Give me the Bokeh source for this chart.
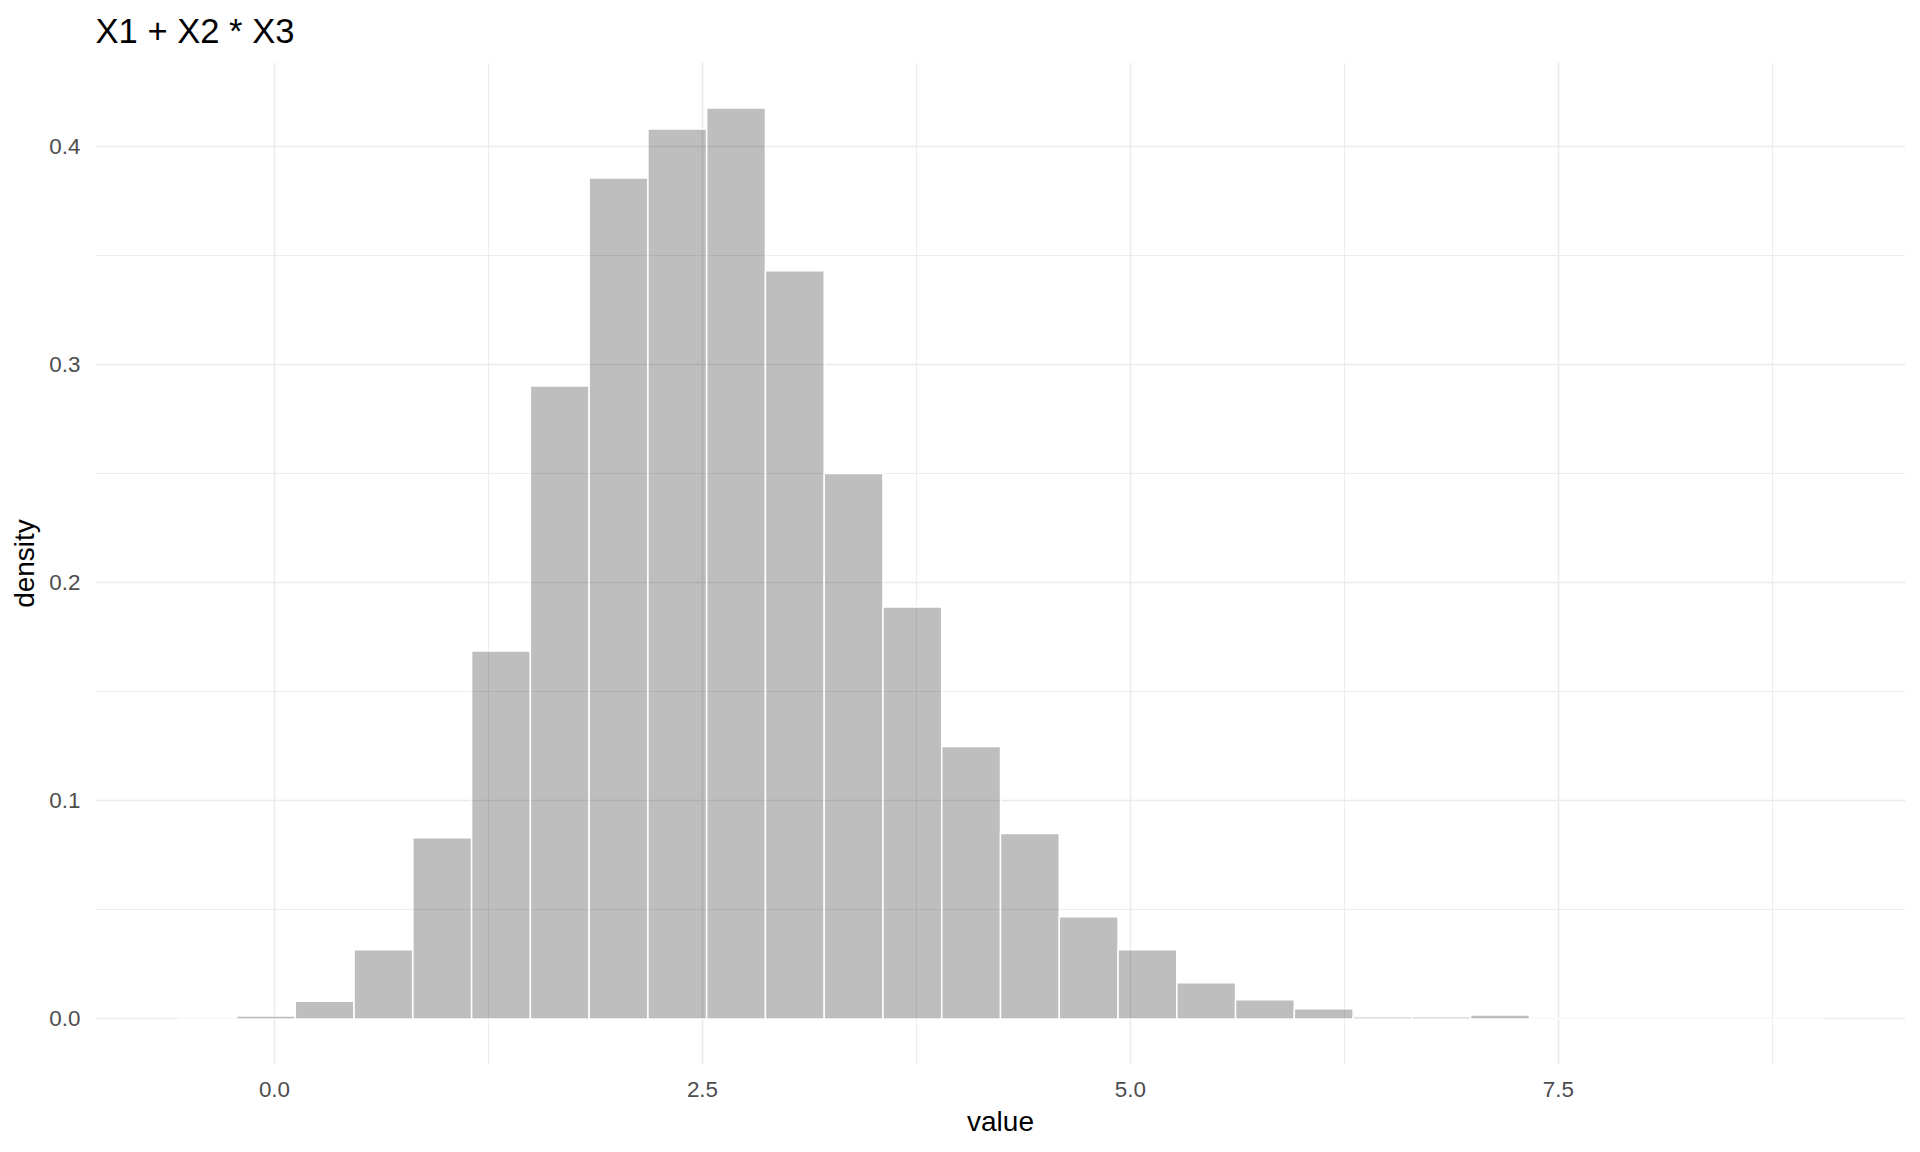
from bokeh.plotting import figure
from bokeh.models import Range1d, FixedTicker, ColumnDataSource
from bokeh.embed import file_html
from bokeh.resources import INLINE

# ---- data ----
title_text = "X1 + X2 * X3"
x_label = "value"
y_label = "density"
bin_start = -0.565
bin_width = 0.3433
densities = [0.0, 0.0013, 0.0081, 0.0317, 0.0830, 0.1686, 0.2900, 0.3854,
             0.4078, 0.4174, 0.3429, 0.2499, 0.1888, 0.1249, 0.0850, 0.0468,
             0.0317, 0.0166, 0.0088, 0.0047, 0.0010, 0.0010, 0.0018,
             0.0, 0.0, 0.0, 0.0, 0.0]
x_ticks = [0.0, 2.5, 5.0, 7.5]
x_minor = [1.25, 3.75, 6.25, 8.75]
y_ticks = [0.0, 0.1, 0.2, 0.3, 0.4]
y_minor = [0.05, 0.15, 0.25, 0.35]

n = len(densities)
lefts = [bin_start + i * bin_width for i in range(n)]
rights = [l + bin_width for l in lefts]
src = ColumnDataSource(dict(left=lefts, right=rights, top=densities, bottom=[0.0] * n))

xmin, xmax = lefts[0], rights[-1]
xpad = 0.05 * (xmax - xmin)
ymax = max(densities)
ypad = 0.05 * ymax

FONT = "Liberation Sans"

p = figure(width=1912, height=1144, output_backend="svg", toolbar_location=None,
           x_range=Range1d(xmin - xpad, xmax + xpad),
           y_range=Range1d(-ypad, ymax + ypad),
           min_border_left=95, min_border_right=7, min_border_top=62, min_border_bottom=80,
           title=title_text)
p.outline_line_color = None
p.background_fill_color = "white"
p.border_fill_color = "white"

p.title.text_font = FONT
p.title.text_font_size = "34.6px"
p.title.text_font_style = "normal"
p.title.text_color = "black"
p.title.align = "left"
p.title.vertical_align = "top"
p.title.standoff = 22

p.quad(left="left", right="right", top="top", bottom="bottom", source=src,
       fill_color="black", fill_alpha=0.255, line_color="white", line_width=1.5)

p.xaxis.ticker = FixedTicker(ticks=x_ticks, minor_ticks=x_minor)
p.yaxis.ticker = FixedTicker(ticks=y_ticks, minor_ticks=y_minor)
p.xaxis.major_label_overrides = {t: f"{t:.1f}" for t in x_ticks}
p.yaxis.major_label_overrides = {t: f"{t:.1f}" for t in y_ticks}

for ax in (p.xaxis, p.yaxis):
    ax.axis_line_color = None
    ax.major_tick_line_color = None
    ax.minor_tick_line_color = None
    ax.major_tick_in = 0
    ax.major_tick_out = 0
    ax.minor_tick_in = 0
    ax.minor_tick_out = 0
    ax.major_label_text_font = FONT
    ax.major_label_text_font_size = "22.4px"
    ax.major_label_text_color = "#4D4D4D"
    ax.axis_label_text_font = FONT
    ax.axis_label_text_font_size = "28px"
    ax.axis_label_text_font_style = "normal"
    ax.axis_label_text_color = "black"

p.xaxis.axis_label = x_label
p.yaxis.axis_label = y_label
p.xaxis.major_label_standoff = 17
p.xaxis.axis_label_standoff = 6
p.yaxis.major_label_standoff = 15
p.yaxis.axis_label_standoff = 6

for g in (p.xgrid, p.ygrid):
    g.grid_line_color = "#EBEBEB"
    g.grid_line_width = 1.6
    g.minor_grid_line_color = "#EBEBEB"
    g.minor_grid_line_width = 0.9

open("out.html", "w").write(file_html(p, INLINE))
